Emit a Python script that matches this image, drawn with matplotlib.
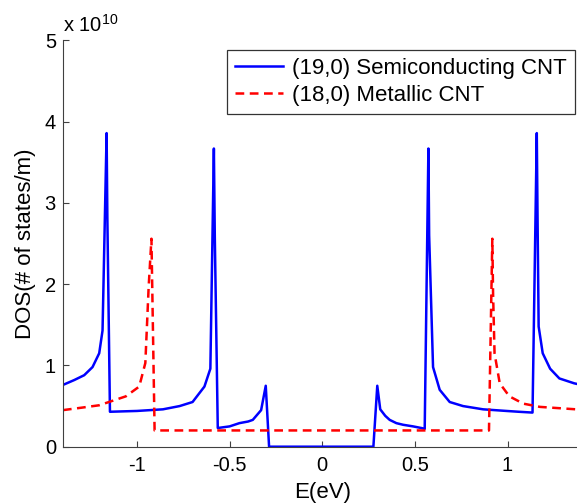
import matplotlib
matplotlib.use("Agg")
import matplotlib.pyplot as plt

plt.rcParams["font.family"] = ["Liberation Sans", "DejaVu Sans"]
plt.rcParams["axes.unicode_minus"] = False

# (19,0) semiconducting CNT, DOS in units of 1e10 states/m
E_semi = [-1.40, -1.339, -1.285, -1.24, -1.204, -1.186, -1.164, -1.16, -1.146,
          -1.0, -0.93, -0.86, -0.77, -0.70, -0.663, -0.636, -0.604, -0.585,
          -0.58, -0.564, -0.50, -0.447, -0.40, -0.375, -0.33, -0.305, -0.287,
          0.0, 0.276, 0.297, 0.313, 0.34, 0.364, 0.40, 0.436, 0.49, 0.535,
          0.553, 0.573, 0.577, 0.598, 0.634, 0.688, 0.76, 0.868, 0.994, 1.06,
          1.135, 1.158, 1.162, 1.168, 1.19, 1.23, 1.28, 1.36, 1.40]
DOS_semi = [0.76, 0.82, 0.88, 0.98, 1.15, 1.43, 3.86, 2.82, 0.43,
            0.44, 0.45, 0.46, 0.50, 0.55, 0.66, 0.74, 0.96, 3.67,
            2.58, 0.23, 0.25, 0.29, 0.31, 0.33, 0.45, 0.75, 0.0,
            0.0, 0.0, 0.75, 0.46, 0.38, 0.33, 0.29, 0.27, 0.25, 0.23,
            0.22, 3.67, 2.6, 0.98, 0.70, 0.55, 0.50, 0.46, 0.44, 0.43,
            0.42, 3.86, 2.85, 1.48, 1.15, 0.96, 0.84, 0.78, 0.76]

# (18,0) metallic CNT
E_met = [-1.40, -1.30, -1.204, -1.06, -0.988, -0.955, -0.937, -0.922, -0.905,
         0.0, 0.900, 0.918, 0.922, 0.93, 0.958, 1.01, 1.085, 1.175, 1.37, 1.40]
DOS_met = [0.45, 0.48, 0.51, 0.62, 0.74, 1.03, 1.97, 2.56, 0.20,
           0.20, 0.20, 2.56, 1.89, 1.15, 0.78, 0.62, 0.53, 0.49, 0.46, 0.45]

fig = plt.figure(figsize=(5.77, 5.04), dpi=100)
ax = fig.add_axes([0.109, 0.1137, 0.899, 0.806])

ax.plot(E_semi, DOS_semi, color="#0000ff", lw=1.8, label="(19,0) Semiconducting CNT")
ax.plot(E_met, DOS_met, color="#ff0000", lw=1.8, ls=(0, (3.5, 2.2)),
        label="(18,0) Metallic CNT")

ax.set_xlim(-1.4, 1.4)
ax.set_ylim(0, 5)
ax.set_xticks([-1, -0.5, 0, 0.5, 1])
ax.set_xticklabels(["-1", "-0.5", "0", "0.5", "1"])
ax.set_yticks([0, 1, 2, 3, 4, 5])
ax.tick_params(direction="in", labelsize=14.5, length=4, colors="#404040",
               labelcolor="black")
ax.tick_params(axis="x", pad=6.5)
ax.tick_params(axis="y", pad=5)
for s in ["top", "right"]:
    ax.spines[s].set_visible(False)
for s in ["left", "bottom"]:
    ax.spines[s].set_color("#404040")

ax.set_xlabel("E(eV)", fontsize=16, labelpad=5)
ax.set_ylabel("DOS(# of states/m)", fontsize=16, labelpad=6)
ax.text(0.0, 1.012, r"x 10$^{\mathregular{10}}$", transform=ax.transAxes,
        fontsize=14.5, ha="left", va="bottom")

leg = ax.legend(loc="upper right", bbox_to_anchor=(0.987, 0.977), fontsize=16,
                frameon=True, fancybox=False, edgecolor="black",
                handlelength=2.2, borderpad=0.35, labelspacing=0.3,
                handletextpad=0.4, borderaxespad=0)
leg.get_frame().set_linewidth(0.9)

fig.savefig("out.png", dpi=100)
